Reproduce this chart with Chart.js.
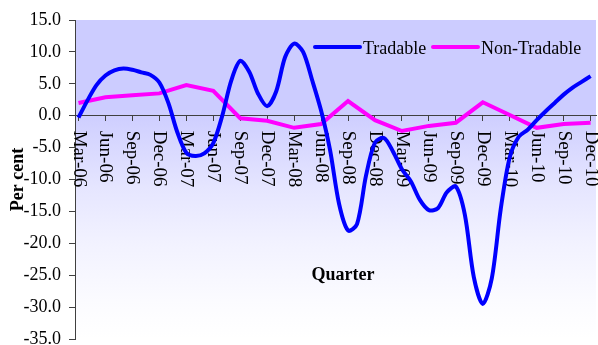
<!DOCTYPE html>
<html><head><meta charset="utf-8">
<script src="https://cdn.jsdelivr.net/npm/chart.js@4/dist/chart.umd.min.js"></script>
<style>html,body{margin:0;padding:0;background:#fff}canvas{display:block}</style>
</head><body>
<canvas id="c" width="598" height="345"></canvas>
<script>
// Quarter labels (category axis)
const quarters = ["Mar-06","Jun-06","Sep-06","Dec-06","Mar-07","Jun-07","Sep-07","Dec-07",
  "Mar-08","Jun-08","Sep-08","Dec-08","Mar-09","Jun-09","Sep-09","Dec-09",
  "Mar-10","Jun-10","Sep-10","Dec-10"];
// Tradable: monthly readings (Mar-06 .. Dec-10), per cent
const tradable = [-0.3, 2.4, 4.8, 6.3, 7.1, 7.4, 7.2, 6.8, 6.4, 5.2, 2.0, -2.6,
  -5.8, -6.3, -5.9, -4.3, 0.0, 5.5, 8.6, 6.9, 3.4, 1.5, 3.8, 9.2,
  11.3, 10.0, 5.6, 0.8, -5.4, -13.8, -18.0, -17.0, -9.4, -4.2, -3.5, -5.6,
  -8.4, -10.3, -13.2, -14.8, -14.5, -12.0, -11.1, -15.5, -25.3, -29.5, -25.5, -14.6,
  -6.5, -3.3, -2.2, -0.7, 0.7, 2.0, 3.3, 4.4, 5.3, 6.2];
// Non-Tradable: quarterly readings, per cent
const nonTradable = [2.0, 2.9, 3.2, 3.5, 4.8, 3.9, -0.4, -0.8, -1.9, -1.3,
  2.3, -0.7, -2.4, -1.6, -1.1, 2.1, 0.1, -1.9, -1.3, -1.1];
const seriesNames = ["Tradable", "Non-Tradable"];
const yMin = -35, yMax = 15, yStep = 5;

const FONT = "'Liberation Serif', 'Times New Roman', serif";

const bgPlugin = {
  id: 'bg',
  beforeDraw(chart) {
    const {ctx, chartArea: a} = chart;
    const g = ctx.createLinearGradient(0, a.top, 0, a.bottom);
    g.addColorStop(0, '#ccccff');
    g.addColorStop(0.28, '#ccccff');
    g.addColorStop(0.53, '#e6e6ff');
    g.addColorStop(0.7, '#f2f2ff');
    g.addColorStop(0.88, '#fbfbff');
    g.addColorStop(1, '#ffffff');
    ctx.save();
    ctx.fillStyle = g;
    ctx.fillRect(a.left, a.top, a.right - a.left, a.bottom - a.top);
    ctx.restore();
  }
};

const labelPlugin = {
  id: 'xlabels',
  beforeDatasetsDraw(chart) {
    const {ctx, scales} = chart;
    const y0 = scales.y.getPixelForValue(0) + 15;
    ctx.save();
    ctx.fillStyle = '#000';
    ctx.font = '19px ' + FONT;
    ctx.textAlign = 'left';
    ctx.textBaseline = 'middle';
    quarters.forEach((q, i) => {
      const x = scales.x.getPixelForValue(i);
      ctx.save();
      ctx.translate(x, y0);
      ctx.rotate(Math.PI / 2);
      ctx.fillText(q, 0, 0);
      ctx.restore();
    });
    ctx.font = 'bold 18px ' + FONT;
    ctx.textAlign = 'center';
    ctx.fillText('Quarter', 343, 275);
    ctx.restore();
  }
};

const legendPlugin = {
  id: 'mylegend',
  afterDraw(chart) {
    const {ctx} = chart;
    const ds = chart.data.datasets;
    const starts = [315, 433];
    ctx.save();
    ctx.font = '18px ' + FONT;
    ctx.textBaseline = 'alphabetic';
    ctx.textAlign = 'left';
    ds.forEach((d, i) => {
      const x = starts[i];
      ctx.strokeStyle = d.borderColor;
      ctx.lineWidth = 4;
      ctx.lineCap = 'round';
      ctx.beginPath();
      ctx.moveTo(x, 47);
      ctx.lineTo(x + 45, 47);
      ctx.stroke();
      ctx.fillStyle = '#000';
      ctx.fillText(d.label, x + 48, 54);
    });
    ctx.restore();
  }
};

new Chart(document.getElementById('c'), {
  type: 'line',
  data: {
    datasets: [
      {
        label: seriesNames[0],
        data: tradable.map((v, k) => ({x: k / 3, y: v})),
        borderColor: '#0000ff',
        borderWidth: 4,
        pointRadius: 0,
        tension: 0.3,
        fill: false
      },
      {
        label: seriesNames[1],
        data: nonTradable.map((v, i) => ({x: i, y: v})),
        borderColor: '#ff00ff',
        borderWidth: 4,
        pointRadius: 0,
        tension: 0,
        fill: false
      }
    ]
  },
  options: {
    responsive: false,
    animation: false,
    devicePixelRatio: 1,
    layout: {padding: {top: 20, right: 2, bottom: 6, left: 0}},
    plugins: {legend: {display: false}, tooltip: {enabled: false}},
    scales: {
      x: {
        type: 'linear',
        position: {y: 0},
        min: -0.13,
        max: 19.2,
        afterBuildTicks(scale) {
          scale.ticks = quarters.map((q, i) => ({value: i}));
        },
        ticks: {display: false},
        grid: {drawOnChartArea: false, drawTicks: true, tickLength: 5, color: '#404040', lineWidth: 1},
        border: {display: true, color: '#404040', width: 1}
      },
      y: {
        min: yMin,
        max: yMax,
        ticks: {
          stepSize: yStep,
          padding: 8,
          color: '#000',
          font: {family: FONT, size: 18},
          callback: (v) => v.toFixed(1)
        },
        grid: {drawOnChartArea: false, drawTicks: true, tickLength: 6, color: '#404040'},
        border: {display: true, color: '#404040', width: 1},
        title: {
          display: true,
          text: 'Per cent',
          color: '#000',
          font: {family: FONT, size: 18, weight: 'bold'},
          padding: {top: 8, bottom: 0}
        },
        afterFit(scale) {
          scale.width = 75;
          scale.paddingTop = 0;
          scale.paddingBottom = 0;
        }
      }
    }
  },
  plugins: [bgPlugin, labelPlugin, legendPlugin]
});
</script>
</body></html>
